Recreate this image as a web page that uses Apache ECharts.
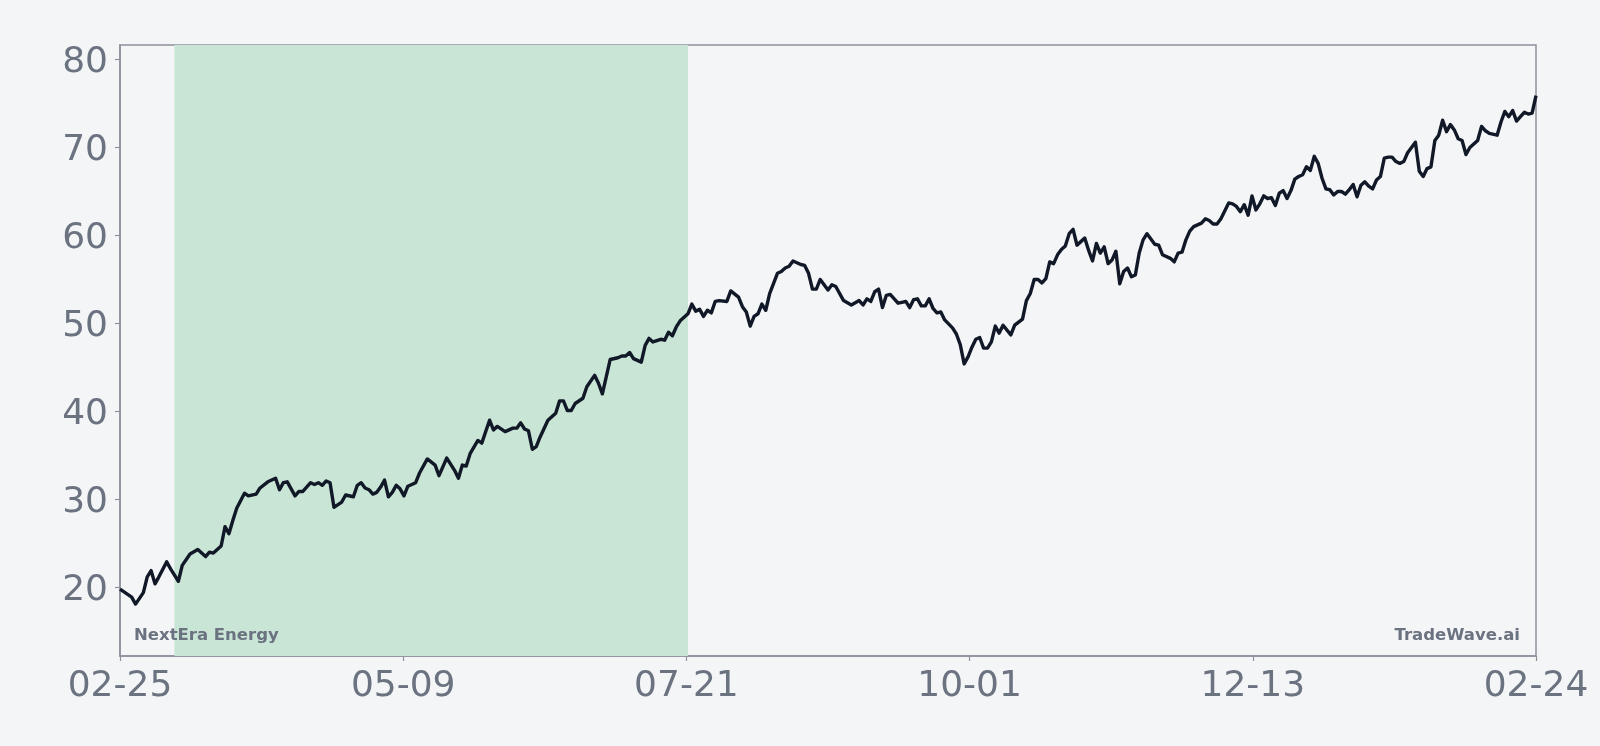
<!DOCTYPE html>
<html>
<head>
<meta charset="utf-8">
<script src="https://cdn.jsdelivr.net/npm/echarts@6.0.0/dist/echarts.min.js"></script>
<style>
html,body{margin:0;padding:0;background:#f4f5f7;}
#chart{width:1600px;height:746px;}
</style>
</head>
<body>
<div id="chart"></div>
<script>
// Day offsets from 2025-02-25 and closing prices
const dayOffsets = [0,3,4,6,7,8,9,10,12,13,15,16,18,20,22,23,24,26,27,28,29,30,32,33,35,36,38,40,41,42,43,45,46,47,49,50,51,52,53,54,55,57,58,60,61,62,63,64,65,66,67,68,69,70,71,72,73,74,76,77,79,81,82,84,86,87,88,89,90,92,93,95,96,97,99,101,102,103,104,105,106,107,108,110,112,113,114,115,116,117,119,120,122,123,124,126,128,129,130,131,132,134,135,136,137,139,140,141,142,143,144,146,147,148,149,150,151,152,153,154,156,157,159,160,161,162,163,164,165,166,167,169,170,171,172,173,175,176,177,178,179,180,182,183,184,186,188,190,191,192,193,194,195,196,197,198,200,201,202,203,204,205,206,207,208,209,210,211,212,214,215,216,217,218,219,220,221,222,223,224,225,226,227,229,230,232,233,234,235,236,237,238,239,240,241,242,243,244,245,246,247,248,249,250,251,252,253,254,255,256,257,258,259,260,261,262,263,264,265,266,267,268,270,271,272,273,274,275,276,278,279,280,281,282,283,285,286,287,288,289,290,291,292,293,294,295,296,297,298,299,300,301,302,303,304,305,306,307,308,309,310,311,312,313,314,315,316,317,318,319,320,321,322,323,324,325,326,327,328,329,330,331,333,334,335,336,337,338,339,340,341,342,343,344,345,346,347,349,350,351,352,354,355,356,357,358,359,360,361,362,363,364];
const prices = [19.8,18.9,18.1,19.4,21.2,21.9,20.4,21.2,22.9,22.1,20.7,22.5,23.8,24.3,23.5,24.0,23.9,24.7,26.9,26.1,27.6,29.0,30.7,30.4,30.6,31.3,32.0,32.4,31.1,31.9,32.0,30.4,30.9,30.9,31.9,31.7,31.9,31.6,32.1,31.9,29.1,29.7,30.5,30.3,31.6,31.9,31.3,31.1,30.6,30.8,31.4,32.2,30.3,30.8,31.6,31.2,30.4,31.5,31.9,33.0,34.6,33.9,32.7,34.7,33.3,32.4,33.9,33.8,35.2,36.7,36.4,39.0,37.9,38.3,37.7,38.1,38.1,38.7,38.0,37.8,35.7,36.0,37.1,39.0,39.8,41.2,41.2,40.1,40.1,40.9,41.5,42.8,44.1,43.2,42.0,45.9,46.1,46.3,46.3,46.7,46.0,45.6,47.5,48.3,47.9,48.2,48.1,49.0,48.6,49.6,50.3,51.1,52.2,51.4,51.6,50.8,51.5,51.2,52.5,52.6,52.5,53.7,53.0,51.9,51.3,49.7,50.8,51.1,52.2,51.5,53.4,55.7,55.9,56.3,56.5,57.1,56.7,56.6,55.7,53.9,53.9,55.0,53.8,54.4,54.2,52.6,52.1,52.6,52.1,52.8,52.5,53.6,53.9,51.8,53.2,53.3,52.3,52.4,52.5,51.8,52.7,52.8,52.0,52.0,52.8,51.7,51.2,51.3,50.4,49.5,48.8,47.6,45.4,46.2,47.3,48.2,48.4,47.2,47.2,47.9,49.7,48.9,49.8,48.7,49.8,50.5,52.6,53.4,55.0,55.0,54.6,55.1,57.0,56.8,57.8,58.4,58.8,60.2,60.7,58.9,59.3,59.7,58.3,57.1,59.1,58.0,58.7,56.8,57.2,58.2,54.5,55.9,56.3,55.3,55.5,58.0,59.5,60.2,59.6,59.0,58.9,57.8,57.4,57.0,58.0,58.1,59.5,60.5,61.0,61.4,61.9,61.7,61.3,61.3,61.9,63.7,63.6,63.3,62.7,63.5,62.3,64.5,62.9,63.6,64.5,64.2,64.3,63.4,64.8,65.1,64.2,65.1,66.4,66.7,66.9,67.8,67.4,69.0,68.2,66.5,65.3,65.2,64.6,65.0,65.0,64.7,65.2,65.8,64.4,65.7,66.1,65.6,65.3,66.3,66.7,68.8,68.9,68.9,68.4,68.2,68.4,69.4,70.6,67.3,66.7,67.6,67.8,70.8,71.4,73.1,71.8,72.6,72.0,71.0,70.8,69.2,70.0,70.8,72.4,71.9,71.6,71.4,72.9,74.1,73.5,74.2,73.0,73.5,74.0,73.8,73.9,75.9];
const xTickDays = [0, 72.8, 145.6, 218.4, 291.2, 364];
const xTickLabels = ['02-25', '05-09', '07-21', '10-01', '12-13', '02-24'];
const yTicks = [20, 30, 40, 50, 60, 70, 80];
const highlightRange = [14, 146];
const companyName = 'NextEra Energy';
const brandName = 'TradeWave.ai';

const seriesData = dayOffsets.map((d, i) => [d, prices[i]]);

const chart = echarts.init(document.getElementById('chart'), null, {renderer: 'canvas'});
const axisColor = '#8e909c';
const labelColor = '#6b7280';
const fontFamily = 'DejaVu Sans';

chart.setOption({
  backgroundColor: '#f4f5f7',
  animation: false,
  grid: {
    left: 120, right: 64, top: 45, bottom: 90,
    show: true, borderColor: axisColor, borderWidth: 1.5, backgroundColor: 'transparent'
  },
  xAxis: {
    type: 'value',
    min: 0, max: 364,
    splitLine: {show: false},
    axisLine: {show: true, lineStyle: {color: axisColor, width: 1.5}},
    axisTick: {show: true, length: 5, lineStyle: {color: axisColor, width: 1.2}, customValues: xTickDays},
    axisLabel: {
      customValues: xTickDays,
      color: labelColor, fontSize: 36, fontFamily: fontFamily, margin: 13,
      formatter: function (v) {
        let best = 0;
        for (let i = 0; i < xTickDays.length; i++) {
          if (Math.abs(xTickDays[i] - v) < Math.abs(xTickDays[best] - v)) best = i;
        }
        return xTickLabels[best];
      }
    }
  },
  yAxis: {
    type: 'value',
    min: 12.2, max: 81.65,
    splitLine: {show: false},
    axisLine: {show: true, lineStyle: {color: axisColor, width: 1.5}},
    axisTick: {show: true, length: 5, lineStyle: {color: axisColor, width: 1.2}, customValues: yTicks},
    axisLabel: {
      customValues: yTicks,
      color: labelColor, fontSize: 36, fontFamily: fontFamily, margin: 12,
      formatter: '{v|{value}}',
      rich: {v: {fontSize: 36, fontFamily: fontFamily, color: labelColor, padding: [7, 0, 0, 0]}}
    }
  },
  graphic: [
    {type: 'text', left: 134, top: 627, z: 10,
      style: {text: companyName, fill: '#6b7280', font: 'bold 16.5px "DejaVu Sans"'}},
    {type: 'text', right: 80, top: 627, z: 10,
      style: {text: brandName, fill: '#6b7280', font: 'bold 16.5px "DejaVu Sans"'}}
  ],
  series: [
    {
      type: 'line', data: [], z: 1, silent: true,
      markArea: {
        silent: true,
        itemStyle: {color: '#c8e5d5'},
        data: [[{xAxis: highlightRange[0]}, {xAxis: highlightRange[1]}]]
      }
    },
    {
      type: 'line',
      data: seriesData,
      z: 5,
      showSymbol: false,
      symbol: 'none',
      lineStyle: {color: '#111827', width: 3.4, join: 'round'},
      itemStyle: {color: '#111827'}
    }
  ]
});
</script>
</body>
</html>
